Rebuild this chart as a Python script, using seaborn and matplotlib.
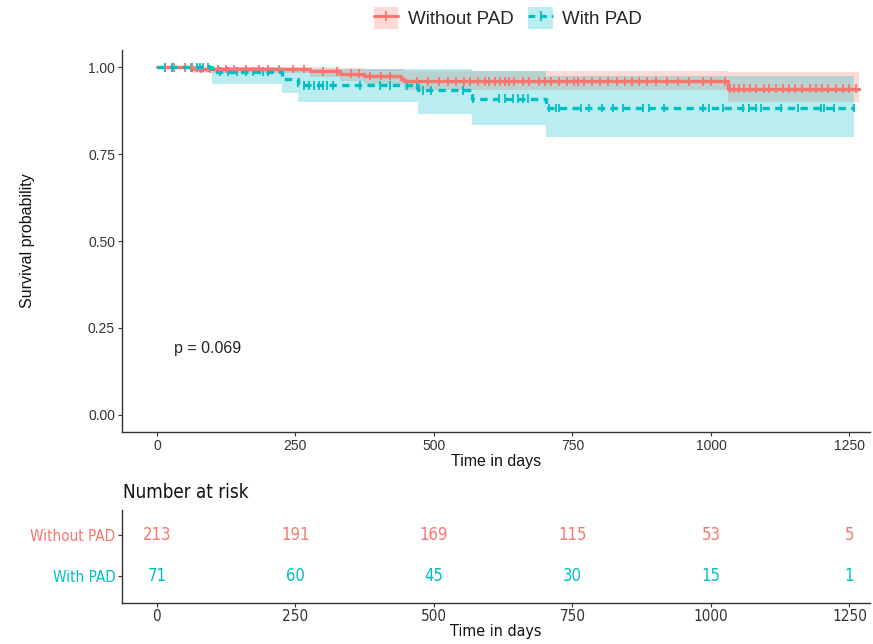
import numpy as np
import pandas as pd
import matplotlib
matplotlib.use("Agg")
import matplotlib.pyplot as plt
import seaborn as sns
from matplotlib.patches import Patch
from matplotlib.lines import Line2D
from matplotlib import font_manager as fm

# ---------------- data ----------------
groups = ["Without PAD", "With PAD"]
colors = {"Without PAD": "#F8766D", "With PAD": "#00BFC4"}

# step survival curves (time, survival)
t_without = [0, 66, 277, 331, 373, 440, 446, 1030, 1267]
s_without = [1.0, 0.995, 0.989, 0.982, 0.975, 0.967, 0.960, 0.939, 0.939]
t_with = [0, 99, 226, 255, 472, 569, 702, 1258]
s_with = [1.0, 0.988, 0.967, 0.948, 0.934, 0.910, 0.883, 0.883]

# confidence bands (time, lower, upper)
ci_t_without = [0, 66, 277, 331, 373, 446, 1030, 1267]
ci_lo_without = [1.0, 0.985, 0.972, 0.962, 0.952, 0.935, 0.900, 0.900]
ci_hi_without = [1.0, 1.0, 1.0, 0.998, 0.995, 0.990, 0.988, 0.988]
ci_t_with = [99, 226, 255, 472, 569, 702, 1258]
ci_lo_with = [0.953, 0.927, 0.900, 0.867, 0.833, 0.800, 0.800]
ci_hi_with = [1.0, 0.998, 0.996, 0.994, 0.990, 0.976, 0.976]

# censoring times
cens_without = [15, 30, 50, 62, 80, 95, 110, 125, 140, 160, 185, 200, 220, 245,
                265, 300, 325, 350, 365, 385, 405, 420, 470, 490, 510, 525, 540,
                555, 565, 580, 592, 600, 610, 620, 628, 636, 645, 660, 672, 690,
                700, 712, 725, 740, 752, 760, 770, 785, 800, 815, 830, 845, 858,
                870, 885, 900, 920, 940, 960, 985, 1000, 1025, 1035, 1042, 1050,
                1060, 1070, 1082, 1095, 1105, 1118, 1130, 1140, 1152, 1165, 1178,
                1190, 1200, 1212, 1225, 1238, 1250, 1262]
cens_with = [15, 28, 64, 73, 78, 84, 93, 114, 129, 145, 160, 174, 192, 201, 265,
             274, 283, 292, 300, 307, 318, 367, 403, 421, 452, 470, 481, 494, 553,
             571, 617, 629, 642, 651, 660, 669, 707, 720, 726, 765, 779, 804, 824,
             841, 877, 888, 915, 985, 996, 1021, 1057, 1068, 1081, 1090, 1126,
             1157, 1198, 1204, 1222, 1258]

risk_times = [0, 250, 500, 750, 1000, 1250]
risk_without = [213, 191, 169, 115, 53, 5]
risk_with = [71, 60, 45, 30, 15, 1]
p_text = "p = 0.069"

# ---------------- build tables ----------------
curve_df = pd.concat([
    pd.DataFrame({"time": t_without, "surv": s_without, "group": groups[0]}),
    pd.DataFrame({"time": t_with, "surv": s_with, "group": groups[1]}),
], ignore_index=True)


def surv_at(times, ts, ss):
    idx = np.searchsorted(ts, times, side="right") - 1
    return np.asarray(ss)[idx]


cens_df = pd.concat([
    pd.DataFrame({"time": cens_without,
                  "surv": surv_at(cens_without, t_without, s_without),
                  "group": groups[0]}),
    pd.DataFrame({"time": cens_with,
                  "surv": surv_at(cens_with, t_with, s_with),
                  "group": groups[1]}),
], ignore_index=True)

# ---------------- style ----------------
sns.set_theme(style="white")
plt.rcParams["font.family"] = ["Liberation Sans", "DejaVu Sans"]
plt.rcParams["axes.edgecolor"] = "#333333"
plt.rcParams["xtick.color"] = "#333333"
plt.rcParams["ytick.color"] = "#333333"

# condensed font for the risk table, if available
cond_fp = None
for f in fm.fontManager.ttflist:
    if f.name == "Liberation Sans Narrow" and f.style == "normal" and f.weight in (400, "normal"):
        cond_fp = fm.FontProperties(fname=f.fname)
        break
if cond_fp is None:
    for f in fm.fontManager.ttflist:
        if f.name == "DejaVu Sans" and "Condensed" in f.fname and "Bold" not in f.fname and "Oblique" not in f.fname:
            cond_fp = fm.FontProperties(fname=f.fname)
            break
if cond_fp is None:
    cond_fp = fm.FontProperties(family="Liberation Sans")


def cfp(size):
    p = cond_fp.copy()
    p.set_size(size)
    return p


fig = plt.figure(figsize=(8.73, 6.44), dpi=100)
ax = fig.add_axes([122 / 873, 1 - 432 / 644, (870 - 122) / 873, (432 - 50) / 644])
axr = fig.add_axes([122 / 873, 1 - 603 / 644, (870 - 122) / 873, (603 - 510) / 644])

band_alpha = 0.27
ax.fill_between(ci_t_without, ci_lo_without, ci_hi_without, step="post",
                color=colors[groups[0]], alpha=band_alpha, lw=0)
ax.fill_between(ci_t_with, ci_lo_with, ci_hi_with, step="post",
                color=colors[groups[1]], alpha=band_alpha, lw=0)

sns.lineplot(data=curve_df, x="time", y="surv", hue="group", style="group",
             palette=colors, dashes={groups[0]: "", groups[1]: (2.2, 1.6)},
             drawstyle="steps-post", estimator=None, lw=2.4, ax=ax, legend=False)

sns.scatterplot(data=cens_df, x="time", y="surv", hue="group", palette=colors,
                marker="|", s=40, linewidth=1.3, ax=ax, legend=False)

ax.set_xlim(-63, 1287)
ax.set_ylim(-0.05, 1.05)
ax.set_xticks(risk_times)
ax.set_yticks([0, 0.25, 0.5, 0.75, 1.0])
ax.set_yticklabels(["0.00", "0.25", "0.50", "0.75", "1.00"])
ax.set_xlabel("Time in days", fontsize=11.5, labelpad=1, color="#111111")
ax.set_ylabel("Survival probability", fontsize=11.5, labelpad=38, color="#111111")
ax.tick_params(axis="both", labelsize=10, length=3, width=0.8, pad=2,
               direction="out", bottom=True, left=True)
sns.despine(ax=ax)
for sp in ("left", "bottom"):
    ax.spines[sp].set_linewidth(1.0)
ax.text(30, 0.19, p_text, fontsize=11.5, color="#222222", va="center")

# legend
handles = [(Patch(facecolor=colors[g], alpha=band_alpha, edgecolor="none"),
            Line2D([], [], color=colors[g], lw=2.2,
                   ls="-" if i == 0 else (0, (2.2, 1.6)),
                   marker="|", markersize=7, markeredgewidth=1.3))
           for i, g in enumerate(groups)]
fig.legend(handles, groups, loc="center", bbox_to_anchor=(508 / 873, 1 - 18 / 644),
           ncol=2, frameon=False, fontsize=13.5, handlelength=1.3,
           handleheight=1.4, handletextpad=0.5, columnspacing=0.8)

# risk table
rows = {groups[0]: risk_without, groups[1]: risk_with}
ypos = {groups[0]: 2, groups[1]: 1}
for g in groups:
    for t, n in zip(risk_times, rows[g]):
        axr.text(t, ypos[g], str(n), color=colors[g], ha="center", va="center",
                 fontproperties=cfp(12))
axr.set_xlim(-63, 1287)
axr.set_ylim(0.36, 2.6)
axr.set_xticks(risk_times)
axr.set_yticks([2, 1])
axr.set_yticklabels(groups)
for lbl, g in zip(axr.get_yticklabels(), groups):
    lbl.set_color(colors[g])
    lbl.set_fontproperties(cfp(11))
axr.tick_params(axis="both", length=3, width=0.8, pad=1.5,
                direction="out", bottom=True, left=True)
for lbl in axr.get_xticklabels():
    lbl.set_fontproperties(cfp(11))
axr.set_xlabel("Time in days", fontproperties=cfp(11.5), labelpad=0, color="#111111")
axr.set_ylabel("")
sns.despine(ax=axr)
for sp in ("left", "bottom"):
    axr.spines[sp].set_linewidth(1.0)
fig.text(123 / 873, 1 - 492 / 644, "Number at risk", fontproperties=cfp(13.5),
         va="center", ha="left", color="#111111")

fig.savefig("out.png", dpi=100)
